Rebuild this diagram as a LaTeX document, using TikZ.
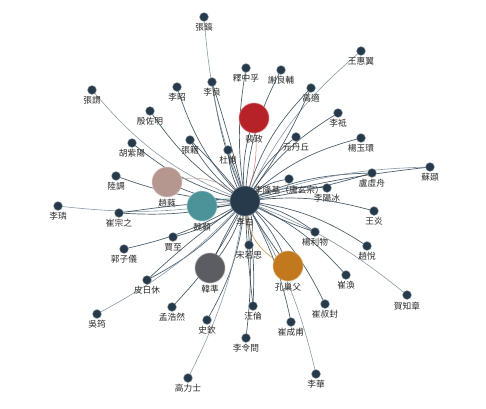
\documentclass[tikz,border=0pt]{standalone}
\usepackage{fontspec}
\newfontfamily\cjk{Noto Sans CJK TC}
\usetikzlibrary{backgrounds}
\definecolor{navy}{HTML}{263A4B}
\definecolor{edgec}{HTML}{2F4554}
\definecolor{edgel}{HTML}{7F8E9B}
\definecolor{nred}{HTML}{B72228}
\definecolor{nteal}{HTML}{4B9299}
\definecolor{npink}{HTML}{B5978F}
\definecolor{ngray}{HTML}{5B5D62}
\definecolor{norange}{HTML}{C2791D}
\definecolor{txt}{HTML}{2A2A2A}
\begin{document}
\begin{tikzpicture}[x=1pt,y=1pt,
  lbl/.style={font=\cjk\fontsize{8.7}{9}\selectfont,text=txt,inner sep=0pt,label distance=1.5pt},
  dot/.style={circle,fill=navy,draw=navy!40,draw opacity=0.5,line width=0.8pt,minimum size=9pt,inner sep=0pt,label={[lbl]below:#1}},
  big/.style 2 args={circle,fill=#1,draw=#1!50,draw opacity=0.5,line width=1pt,minimum size=30pt,inner sep=0pt,label={[lbl]below:#2}},
  edge/.style={draw=edgec,line width=0.7pt,opacity=0.85},
  ledge/.style={draw=edgel,line width=0.6pt,opacity=0.9}]
\useasboundingbox (0,0) rectangle (486,-408);
% central and large nodes
\node[big={navy}{李白}] (c) at (245,-201) {};
\node[big={nred}{裴政}] (n10) at (254,-118) {};
\node[big={npink}{趙蕤}] (n18) at (167,-182) {};
\node[big={nteal}{魏顥}] (n25) at (202,-206) {};
\node[big={ngray}{韓準}] (n32) at (210,-268) {};
\node[big={norange}{孔巢父}] (n33) at (288,-266) {};
% small nodes
\node[dot=張鎬] (n1) at (204,-17) {};
\node[dot=釋中孚] (n2) at (246,-68) {};
\node[dot=謝良輔] (n3) at (281,-70) {};
\node[dot=王惠翼] (n4) at (361,-51) {};
\node[dot=李昭] (n5) at (177,-87) {};
\node[dot=李良] (n6) at (212,-82) {};
\node[dot=張謂] (n7) at (92,-90) {};
\node[dot=殷佐明] (n8) at (150,-111) {};
\node[dot=高適] (n9) at (311,-88) {};
\node[dot=李祗] (n11) at (338,-113) {};
\node[dot=胡紫陽] (n12) at (132,-143) {};
\node[dot=張籍] (n13) at (190,-140) {};
\node[dot=杜甫] (n14) at (228,-150) {};
\node[dot=元丹丘] (n15) at (296,-137) {};
\node[dot=楊玉環] (n16) at (361,-138) {};
\node[dot=陸調] (n17) at (116,-176) {};
\node[dot=李隆基（唐玄宗）] (n19) at (289,-179) {};
\node[dot=盧虛舟] (n20) at (372,-173) {};
\node[dot=蘇頲] (n21) at (430,-167) {};
\node[dot=李陽冰] (n22) at (327,-188) {};
\node[dot=李璘] (n23) at (58,-206) {};
\node[dot=崔宗之] (n24) at (119,-213) {};
\node[dot=王炎] (n26) at (374,-211) {};
\node[dot=賈至] (n27) at (173,-237) {};
\node[dot=郭子儀] (n28) at (124,-249) {};
\node[dot=宋若思] (n29) at (249,-245) {};
\node[dot=楊利物] (n30) at (315,-232) {};
\node[dot=趙悅] (n31) at (367,-246) {};
\node[dot=皮日休] (n34) at (147,-280) {};
\node[dot=崔渙] (n35) at (346,-275) {};
\node[dot=賀知章] (n36) at (407,-295) {};
\node[dot=吳筠] (n37) at (97,-314) {};
\node[dot=孟浩然] (n38) at (172,-307) {};
\node[dot=汪倫] (n39) at (253,-306) {};
\node[dot=崔叔封] (n40) at (325,-304) {};
\node[dot=崔成甫] (n41) at (291,-322) {};
\node[dot=史欽] (n42) at (207,-320) {};
\node[dot=李令問] (n43) at (246,-338) {};
\node[dot=李華] (n44) at (316,-374) {};
\node[dot=高力士] (n45) at (188,-378) {};
\begin{pgfonlayer}{background}
\foreach \n/\b in {n2/9,n3/12,n5/13,n6/7,n8/12,n9/14,n10/12,n11/12,n12/12,n13/12,n14/14,
  n15/14,n16/14,n17/9,n18/12,n19/18,n20/11,n22/14,n24/9,n25/12,n26/11,n27/12,n28/9,
  n29/24,n30/12,n31/13,n32/12,n33/12,n34/11,n35/12,n38/9,n39/7,n40/12,n41/9,n42/12,n43/7}
  \draw[edge] (c.center) to[bend left=\b] (\n.center);
\foreach \n/\b in {n1/8,n4/12,n7/14,n21/9,n23/8,n36/9,n37/9,n44/9,n45/9}
  \draw[ledge] (c.center) to[bend left=\b] (\n.center);
% second links
\foreach \n/\b in {n6/2,n13/4,n14/3,n24/3,n20/4,n34/4,n39/2,n33/3,n32/4,n9/6,n30/5}
  \draw[edge] (c.center) to[bend right=\b] (\n.center);
\draw[edge] (c.center) to[bend left=4] (n21.center);
% coloured links
\draw[draw=nred!80,line width=0.5pt,opacity=0.8] (n10.center) to[bend left=14] (c.center);
\draw[draw=npink,line width=0.6pt,opacity=0.8] (n18.center) to[bend left=30] (c.center);
\draw[draw=nteal,line width=0.6pt,opacity=0.9] (n25.center) to[bend left=20] (c.center);
\draw[draw=norange,line width=0.6pt,opacity=0.8] (n33.center) to[bend left=35] (c.center);
\end{pgfonlayer}
\end{tikzpicture}
\end{document}
